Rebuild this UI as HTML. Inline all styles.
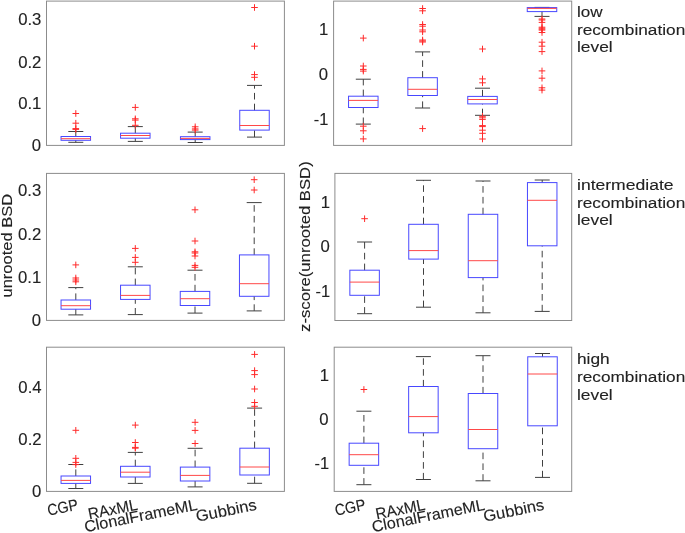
<!DOCTYPE html>
<html><head><meta charset="utf-8"><style>
html,body{margin:0;padding:0;background:#fff;width:685px;height:533px;overflow:hidden}
svg{display:block}
text{font-family:"Liberation Sans",sans-serif}
</style></head><body>
<svg width="685" height="533" viewBox="0 0 685 533">
<rect width="685" height="533" fill="#fff"/>
<rect x="46.5" y="1.1" width="237.9" height="144.3" fill="none" stroke="#8c8c8c" stroke-width="1"/>
<rect x="333.6" y="1.1" width="238.1" height="144.3" fill="none" stroke="#8c8c8c" stroke-width="1"/>
<rect x="46.5" y="173.4" width="237.9" height="147" fill="none" stroke="#8c8c8c" stroke-width="1"/>
<rect x="334.9" y="173.4" width="236.8" height="147.1" fill="none" stroke="#8c8c8c" stroke-width="1"/>
<rect x="46.5" y="347.2" width="237.9" height="144.2" fill="none" stroke="#8c8c8c" stroke-width="1"/>
<rect x="334.2" y="347.2" width="237.5" height="144.2" fill="none" stroke="#8c8c8c" stroke-width="1"/>
<path d="M75.8 136.5V131.5M75.8 142.3V140.3" stroke="#404040" stroke-width="1" stroke-dasharray="6.6 4.2" fill="none"/>
<path d="M68.3 131.5H83.3M68.3 142.3H83.3" stroke="#404040" stroke-width="1" fill="none"/>
<rect x="61.05" y="136.5" width="29.5" height="3.8" fill="none" stroke="#4848ff" stroke-width="1"/>
<path d="M61.05 138.7H90.55" stroke="#ff4848" stroke-width="1" fill="none"/>
<path d="M72.5 113.5H79.1M75.8 110.2V116.8M72.5 123.2H79.1M75.8 119.9V126.5M72.5 128.6H79.1M75.8 125.3V131.9M72.5 129.4H79.1M75.8 126.1V132.7" stroke="#ff2a2a" stroke-width="1" fill="none"/>
<path d="M135.3 133.2V126.6M135.3 141.4V138.2" stroke="#404040" stroke-width="1" stroke-dasharray="6.6 4.2" fill="none"/>
<path d="M127.8 126.6H142.8M127.8 141.4H142.8" stroke="#404040" stroke-width="1" fill="none"/>
<rect x="120.55" y="133.2" width="29.5" height="5" fill="none" stroke="#4848ff" stroke-width="1"/>
<path d="M120.55 135.5H150.05" stroke="#ff4848" stroke-width="1" fill="none"/>
<path d="M132 107.4H138.6M135.3 104.1V110.7M132 118.8H138.6M135.3 115.5V122.1M132 120.1H138.6M135.3 116.8V123.4M132 125.3H138.6M135.3 122V128.6" stroke="#ff2a2a" stroke-width="1" fill="none"/>
<path d="M195.2 136.7V132.1M195.2 142.5V139.6" stroke="#404040" stroke-width="1" stroke-dasharray="6.6 4.2" fill="none"/>
<path d="M187.7 132.1H202.7M187.7 142.5H202.7" stroke="#404040" stroke-width="1" fill="none"/>
<rect x="180.45" y="136.7" width="29.5" height="2.9" fill="none" stroke="#4848ff" stroke-width="1"/>
<path d="M180.45 138.4H209.95" stroke="#ff4848" stroke-width="1" fill="none"/>
<path d="M191.9 126.8H198.5M195.2 123.5V130.1M191.9 128.9H198.5M195.2 125.6V132.2M191.9 130.1H198.5M195.2 126.8V133.4" stroke="#ff2a2a" stroke-width="1" fill="none"/>
<path d="M254.5 110.3V85.4M254.5 137.1V130.1" stroke="#404040" stroke-width="1" stroke-dasharray="6.6 4.2" fill="none"/>
<path d="M247 85.4H262M247 137.1H262" stroke="#404040" stroke-width="1" fill="none"/>
<rect x="239.75" y="110.3" width="29.5" height="19.8" fill="none" stroke="#4848ff" stroke-width="1"/>
<path d="M239.75 125.5H269.25" stroke="#ff4848" stroke-width="1" fill="none"/>
<path d="M251.2 7.5H257.8M254.5 4.2V10.8M251.2 46.2H257.8M254.5 42.9V49.5M251.2 74.6H257.8M254.5 71.3V77.9M251.2 77.3H257.8M254.5 74V80.6" stroke="#ff2a2a" stroke-width="1" fill="none"/>
<path d="M363.3 96.2V79.2M363.3 124.1V107.5" stroke="#404040" stroke-width="1" stroke-dasharray="6.6 4.2" fill="none"/>
<path d="M355.8 79.2H370.8M355.8 124.1H370.8" stroke="#404040" stroke-width="1" fill="none"/>
<rect x="348.55" y="96.2" width="29.5" height="11.3" fill="none" stroke="#4848ff" stroke-width="1"/>
<path d="M348.55 100.4H378.05" stroke="#ff4848" stroke-width="1" fill="none"/>
<path d="M360 38.1H366.6M363.3 34.8V41.4M360 66H366.6M363.3 62.7V69.3M360 69.4H366.6M363.3 66.1V72.7M360 71.1H366.6M363.3 67.8V74.4M360 126.2H366.6M363.3 122.9V129.5M360 130.8H366.6M363.3 127.5V134.1M360 138.9H366.6M363.3 135.6V142.2" stroke="#ff2a2a" stroke-width="1" fill="none"/>
<path d="M422.6 77.7V51.9M422.6 108V95.5" stroke="#404040" stroke-width="1" stroke-dasharray="6.6 4.2" fill="none"/>
<path d="M415.1 51.9H430.1M415.1 108H430.1" stroke="#404040" stroke-width="1" fill="none"/>
<rect x="407.85" y="77.7" width="29.5" height="17.8" fill="none" stroke="#4848ff" stroke-width="1"/>
<path d="M407.85 89.3H437.35" stroke="#ff4848" stroke-width="1" fill="none"/>
<path d="M419.3 8.5H425.9M422.6 5.2V11.8M419.3 10.8H425.9M422.6 7.5V14.1M419.3 24.5H425.9M422.6 21.2V27.8M419.3 26.2H425.9M422.6 22.9V29.5M419.3 30H425.9M422.6 26.7V33.3M419.3 31.8H425.9M422.6 28.5V35.1M419.3 40H425.9M422.6 36.7V43.3M419.3 41H425.9M422.6 37.7V44.3M419.3 42H425.9M422.6 38.7V45.3M419.3 128.6H425.9M422.6 125.3V131.9" stroke="#ff2a2a" stroke-width="1" fill="none"/>
<path d="M482.5 96.4V88.2M482.5 115.3V103.9" stroke="#404040" stroke-width="1" stroke-dasharray="6.6 4.2" fill="none"/>
<path d="M475 88.2H490M475 115.3H490" stroke="#404040" stroke-width="1" fill="none"/>
<rect x="467.75" y="96.4" width="29.5" height="7.5" fill="none" stroke="#4848ff" stroke-width="1"/>
<path d="M467.75 99.5H497.25" stroke="#ff4848" stroke-width="1" fill="none"/>
<path d="M479.2 49H485.8M482.5 45.7V52.3M479.2 78.9H485.8M482.5 75.6V82.2M479.2 82.8H485.8M482.5 79.5V86.1M479.2 116.3H485.8M482.5 113V119.6M479.2 117.8H485.8M482.5 114.5V121.1M479.2 119.4H485.8M482.5 116.1V122.7M479.2 125.6H485.8M482.5 122.3V128.9M479.2 126.6H485.8M482.5 123.3V129.9M479.2 130.2H485.8M482.5 126.9V133.5M479.2 133.3H485.8M482.5 130V136.6M479.2 139H485.8M482.5 135.7V142.3" stroke="#ff2a2a" stroke-width="1" fill="none"/>
<path d="M542 7.6V7.4M542 16.4V11.6" stroke="#404040" stroke-width="1" stroke-dasharray="6.6 4.2" fill="none"/>
<path d="M534.5 7.4H549.5M534.5 16.4H549.5" stroke="#404040" stroke-width="1" fill="none"/>
<rect x="527.25" y="7.6" width="29.5" height="4" fill="none" stroke="#4848ff" stroke-width="1"/>
<path d="M527.25 8.4H556.75" stroke="#ff4848" stroke-width="1" fill="none"/>
<path d="M538.7 19H545.3M542 15.7V22.3M538.7 20H545.3M542 16.7V23.3M538.7 22.4H545.3M542 19.1V25.7M538.7 27.2H545.3M542 23.9V30.5M538.7 28.2H545.3M542 24.9V31.5M538.7 29.2H545.3M542 25.9V32.5M538.7 30.1H545.3M542 26.8V33.4M538.7 32.5H545.3M542 29.2V35.8M538.7 42.2H545.3M542 38.9V45.5M538.7 46.2H545.3M542 42.9V49.5M538.7 51.6H545.3M542 48.3V54.9M538.7 70.9H545.3M542 67.6V74.2M538.7 78.2H545.3M542 74.9V81.5M538.7 87.8H545.3M542 84.5V91.1M538.7 90.1H545.3M542 86.8V93.4" stroke="#ff2a2a" stroke-width="1" fill="none"/>
<path d="M75.8 300V287.6M75.8 314.9V309.2" stroke="#404040" stroke-width="1" stroke-dasharray="6.6 4.2" fill="none"/>
<path d="M68.3 287.6H83.3M68.3 314.9H83.3" stroke="#404040" stroke-width="1" fill="none"/>
<rect x="61.05" y="300" width="29.5" height="9.2" fill="none" stroke="#4848ff" stroke-width="1"/>
<path d="M61.05 305.7H90.55" stroke="#ff4848" stroke-width="1" fill="none"/>
<path d="M72.5 264.9H79.1M75.8 261.6V268.2M72.5 278H79.1M75.8 274.7V281.3M72.5 280H79.1M75.8 276.7V283.3M72.5 281.8H79.1M75.8 278.5V285.1" stroke="#ff2a2a" stroke-width="1" fill="none"/>
<path d="M135.3 285.2V266.8M135.3 314.6V299.4" stroke="#404040" stroke-width="1" stroke-dasharray="6.6 4.2" fill="none"/>
<path d="M127.8 266.8H142.8M127.8 314.6H142.8" stroke="#404040" stroke-width="1" fill="none"/>
<rect x="120.55" y="285.2" width="29.5" height="14.2" fill="none" stroke="#4848ff" stroke-width="1"/>
<path d="M120.55 295.4H150.05" stroke="#ff4848" stroke-width="1" fill="none"/>
<path d="M132 248.4H138.6M135.3 245.1V251.7M132 257.4H138.6M135.3 254.1V260.7M132 262.3H138.6M135.3 259V265.6" stroke="#ff2a2a" stroke-width="1" fill="none"/>
<path d="M195 291.4V270.2M195 313.1V305.5" stroke="#404040" stroke-width="1" stroke-dasharray="6.6 4.2" fill="none"/>
<path d="M187.5 270.2H202.5M187.5 313.1H202.5" stroke="#404040" stroke-width="1" fill="none"/>
<rect x="180.25" y="291.4" width="29.5" height="14.1" fill="none" stroke="#4848ff" stroke-width="1"/>
<path d="M180.25 298.7H209.75" stroke="#ff4848" stroke-width="1" fill="none"/>
<path d="M191.7 209.8H198.3M195 206.5V213.1M191.7 241H198.3M195 237.7V244.3M191.7 251.8H198.3M195 248.5V255.1M191.7 253H198.3M195 249.7V256.3M191.7 256H198.3M195 252.7V259.3M191.7 265.4H198.3M195 262.1V268.7M191.7 267.3H198.3M195 264V270.6" stroke="#ff2a2a" stroke-width="1" fill="none"/>
<path d="M254.2 254.9V202.6M254.2 310.9V296.3" stroke="#404040" stroke-width="1" stroke-dasharray="6.6 4.2" fill="none"/>
<path d="M246.7 202.6H261.7M246.7 310.9H261.7" stroke="#404040" stroke-width="1" fill="none"/>
<rect x="239.45" y="254.9" width="29.5" height="41.4" fill="none" stroke="#4848ff" stroke-width="1"/>
<path d="M239.45 283.7H268.95" stroke="#ff4848" stroke-width="1" fill="none"/>
<path d="M250.9 179.7H257.5M254.2 176.4V183M250.9 190H257.5M254.2 186.7V193.3" stroke="#ff2a2a" stroke-width="1" fill="none"/>
<path d="M364.6 270.2V242M364.6 313.7V295.3" stroke="#404040" stroke-width="1" stroke-dasharray="6.6 4.2" fill="none"/>
<path d="M357.1 242H372.1M357.1 313.7H372.1" stroke="#404040" stroke-width="1" fill="none"/>
<rect x="349.85" y="270.2" width="29.5" height="25.1" fill="none" stroke="#4848ff" stroke-width="1"/>
<path d="M349.85 282.1H379.35" stroke="#ff4848" stroke-width="1" fill="none"/>
<path d="M361.3 218.7H367.9M364.6 215.4V222" stroke="#ff2a2a" stroke-width="1" fill="none"/>
<path d="M423.5 224.3V180.3M423.5 307.2V259.1" stroke="#404040" stroke-width="1" stroke-dasharray="6.6 4.2" fill="none"/>
<path d="M416 180.3H431M416 307.2H431" stroke="#404040" stroke-width="1" fill="none"/>
<rect x="408.75" y="224.3" width="29.5" height="34.8" fill="none" stroke="#4848ff" stroke-width="1"/>
<path d="M408.75 250.6H438.25" stroke="#ff4848" stroke-width="1" fill="none"/>
<path d="M483 214.3V181M483 312.8V277.6" stroke="#404040" stroke-width="1" stroke-dasharray="6.6 4.2" fill="none"/>
<path d="M475.5 181H490.5M475.5 312.8H490.5" stroke="#404040" stroke-width="1" fill="none"/>
<rect x="468.25" y="214.3" width="29.5" height="63.3" fill="none" stroke="#4848ff" stroke-width="1"/>
<path d="M468.25 260.7H497.75" stroke="#ff4848" stroke-width="1" fill="none"/>
<path d="M542.2 182.6V180M542.2 311.4V245.8" stroke="#404040" stroke-width="1" stroke-dasharray="6.6 4.2" fill="none"/>
<path d="M534.7 180H549.7M534.7 311.4H549.7" stroke="#404040" stroke-width="1" fill="none"/>
<rect x="527.45" y="182.6" width="29.5" height="63.2" fill="none" stroke="#4848ff" stroke-width="1"/>
<path d="M527.45 200.3H556.95" stroke="#ff4848" stroke-width="1" fill="none"/>
<path d="M75.8 476V464.5M75.8 488.5V483.4" stroke="#404040" stroke-width="1" stroke-dasharray="6.6 4.2" fill="none"/>
<path d="M68.3 464.5H83.3M68.3 488.5H83.3" stroke="#404040" stroke-width="1" fill="none"/>
<rect x="61.05" y="476" width="29.5" height="7.4" fill="none" stroke="#4848ff" stroke-width="1"/>
<path d="M61.05 480.4H90.55" stroke="#ff4848" stroke-width="1" fill="none"/>
<path d="M72.5 430.3H79.1M75.8 427V433.6M72.5 458.3H79.1M75.8 455V461.6M72.5 462.4H79.1M75.8 459.1V465.7M72.5 464.6H79.1M75.8 461.3V467.9" stroke="#ff2a2a" stroke-width="1" fill="none"/>
<path d="M135.3 466.3V452.4M135.3 483.4V477" stroke="#404040" stroke-width="1" stroke-dasharray="6.6 4.2" fill="none"/>
<path d="M127.8 452.4H142.8M127.8 483.4H142.8" stroke="#404040" stroke-width="1" fill="none"/>
<rect x="120.55" y="466.3" width="29.5" height="10.7" fill="none" stroke="#4848ff" stroke-width="1"/>
<path d="M120.55 472.2H150.05" stroke="#ff4848" stroke-width="1" fill="none"/>
<path d="M132 425.1H138.6M135.3 421.8V428.4M132 442.5H138.6M135.3 439.2V445.8M132 447.4H138.6M135.3 444.1V450.7M132 448.2H138.6M135.3 444.9V451.5" stroke="#ff2a2a" stroke-width="1" fill="none"/>
<path d="M195.1 467.1V448.3M195.1 486.9V481" stroke="#404040" stroke-width="1" stroke-dasharray="6.6 4.2" fill="none"/>
<path d="M187.6 448.3H202.6M187.6 486.9H202.6" stroke="#404040" stroke-width="1" fill="none"/>
<rect x="180.35" y="467.1" width="29.5" height="13.9" fill="none" stroke="#4848ff" stroke-width="1"/>
<path d="M180.35 475.4H209.85" stroke="#ff4848" stroke-width="1" fill="none"/>
<path d="M191.8 422.3H198.4M195.1 419V425.6M191.8 430.4H198.4M195.1 427.1V433.7M191.8 443.5H198.4M195.1 440.2V446.8" stroke="#ff2a2a" stroke-width="1" fill="none"/>
<path d="M254.6 448.2V408.1M254.6 483.3V475" stroke="#404040" stroke-width="1" stroke-dasharray="6.6 4.2" fill="none"/>
<path d="M247.1 408.1H262.1M247.1 483.3H262.1" stroke="#404040" stroke-width="1" fill="none"/>
<rect x="239.85" y="448.2" width="29.5" height="26.8" fill="none" stroke="#4848ff" stroke-width="1"/>
<path d="M239.85 467H269.35" stroke="#ff4848" stroke-width="1" fill="none"/>
<path d="M251.3 354.4H257.9M254.6 351.1V357.7M251.3 370.6H257.9M254.6 367.3V373.9M251.3 374.6H257.9M254.6 371.3V377.9M251.3 389H257.9M254.6 385.7V392.3M251.3 402.5H257.9M254.6 399.2V405.8M251.3 406.3H257.9M254.6 403V409.6" stroke="#ff2a2a" stroke-width="1" fill="none"/>
<path d="M363.9 443.2V411.2M363.9 484.7V465.3" stroke="#404040" stroke-width="1" stroke-dasharray="6.6 4.2" fill="none"/>
<path d="M356.4 411.2H371.4M356.4 484.7H371.4" stroke="#404040" stroke-width="1" fill="none"/>
<rect x="349.15" y="443.2" width="29.5" height="22.1" fill="none" stroke="#4848ff" stroke-width="1"/>
<path d="M349.15 454.7H378.65" stroke="#ff4848" stroke-width="1" fill="none"/>
<path d="M360.6 389.5H367.2M363.9 386.2V392.8" stroke="#ff2a2a" stroke-width="1" fill="none"/>
<path d="M423.4 386.5V356.6M423.4 479.5V432.8" stroke="#404040" stroke-width="1" stroke-dasharray="6.6 4.2" fill="none"/>
<path d="M415.9 356.6H430.9M415.9 479.5H430.9" stroke="#404040" stroke-width="1" fill="none"/>
<rect x="408.65" y="386.5" width="29.5" height="46.3" fill="none" stroke="#4848ff" stroke-width="1"/>
<path d="M408.65 416.6H438.15" stroke="#ff4848" stroke-width="1" fill="none"/>
<path d="M483 393.5V355.7M483 480.8V448.7" stroke="#404040" stroke-width="1" stroke-dasharray="6.6 4.2" fill="none"/>
<path d="M475.5 355.7H490.5M475.5 480.8H490.5" stroke="#404040" stroke-width="1" fill="none"/>
<rect x="468.25" y="393.5" width="29.5" height="55.2" fill="none" stroke="#4848ff" stroke-width="1"/>
<path d="M468.25 429.5H497.75" stroke="#ff4848" stroke-width="1" fill="none"/>
<path d="M542.5 356.8V353.5M542.5 477.4V425.8" stroke="#404040" stroke-width="1" stroke-dasharray="6.6 4.2" fill="none"/>
<path d="M535 353.5H550M535 477.4H550" stroke="#404040" stroke-width="1" fill="none"/>
<rect x="527.75" y="356.8" width="29.5" height="69" fill="none" stroke="#4848ff" stroke-width="1"/>
<path d="M527.75 374H557.25" stroke="#ff4848" stroke-width="1" fill="none"/>
<g font-family="Liberation Sans, sans-serif" font-size="15.8" fill="#222222" stroke="#222222" stroke-width="0.12" style="filter:grayscale(1)">
<text x="41.41" y="25.15" text-anchor="end" textLength="23.26" lengthAdjust="spacingAndGlyphs">0.3</text>
<text x="41.41" y="67.75" text-anchor="end" textLength="23.26" lengthAdjust="spacingAndGlyphs">0.2</text>
<text x="41.41" y="109.25" text-anchor="end" textLength="23.26" lengthAdjust="spacingAndGlyphs">0.1</text>
<text x="41.19" y="150.75" text-anchor="end" textLength="9.3" lengthAdjust="spacingAndGlyphs">0</text>
<text x="328.37" y="35.45" text-anchor="end" textLength="9.3" lengthAdjust="spacingAndGlyphs">1</text>
<text x="327.99" y="80.05" text-anchor="end" textLength="9.3" lengthAdjust="spacingAndGlyphs">0</text>
<text x="328.38" y="125.25" text-anchor="end" textLength="14.58" lengthAdjust="spacingAndGlyphs">-1</text>
<text x="41.21" y="196.25" text-anchor="end" textLength="23.26" lengthAdjust="spacingAndGlyphs">0.3</text>
<text x="41.21" y="240" text-anchor="end" textLength="23.26" lengthAdjust="spacingAndGlyphs">0.2</text>
<text x="41.21" y="283.25" text-anchor="end" textLength="23.26" lengthAdjust="spacingAndGlyphs">0.1</text>
<text x="40.99" y="326.25" text-anchor="end" textLength="9.3" lengthAdjust="spacingAndGlyphs">0</text>
<text x="330.17" y="207.9" text-anchor="end" textLength="9.3" lengthAdjust="spacingAndGlyphs">1</text>
<text x="329.79" y="252.15" text-anchor="end" textLength="9.3" lengthAdjust="spacingAndGlyphs">0</text>
<text x="330.18" y="297.25" text-anchor="end" textLength="14.58" lengthAdjust="spacingAndGlyphs">-1</text>
<text x="41.61" y="393.15" text-anchor="end" textLength="23.26" lengthAdjust="spacingAndGlyphs">0.4</text>
<text x="41.61" y="444.75" text-anchor="end" textLength="23.26" lengthAdjust="spacingAndGlyphs">0.2</text>
<text x="41.39" y="496.55" text-anchor="end" textLength="9.3" lengthAdjust="spacingAndGlyphs">0</text>
<text x="329.07" y="380.95" text-anchor="end" textLength="9.3" lengthAdjust="spacingAndGlyphs">1</text>
<text x="328.69" y="425.2" text-anchor="end" textLength="9.3" lengthAdjust="spacingAndGlyphs">0</text>
<text x="329.08" y="469.15" text-anchor="end" textLength="14.58" lengthAdjust="spacingAndGlyphs">-1</text>
<text x="577" y="17.1" text-anchor="start" textLength="25.61" lengthAdjust="spacingAndGlyphs" font-size="15.3">low</text>
<text x="577" y="34.6" text-anchor="start" textLength="108.22" lengthAdjust="spacingAndGlyphs" font-size="15.3">recombination</text>
<text x="577" y="52.2" text-anchor="start" textLength="35.67" lengthAdjust="spacingAndGlyphs" font-size="15.3">level</text>
<text x="577" y="190.3" text-anchor="start" textLength="96.52" lengthAdjust="spacingAndGlyphs" font-size="15.3">intermediate</text>
<text x="577" y="207.8" text-anchor="start" textLength="108.22" lengthAdjust="spacingAndGlyphs" font-size="15.3">recombination</text>
<text x="577" y="225.4" text-anchor="start" textLength="35.67" lengthAdjust="spacingAndGlyphs" font-size="15.3">level</text>
<text x="577" y="364" text-anchor="start" textLength="32.7" lengthAdjust="spacingAndGlyphs" font-size="15.3">high</text>
<text x="577" y="381.9" text-anchor="start" textLength="108.22" lengthAdjust="spacingAndGlyphs" font-size="15.3">recombination</text>
<text x="577" y="399.8" text-anchor="start" textLength="35.67" lengthAdjust="spacingAndGlyphs" font-size="15.3">level</text>
<text x="12" y="245.7" text-anchor="middle" textLength="103.7" lengthAdjust="spacingAndGlyphs" transform="rotate(-90 12 245.7)" font-size="15.3">unrooted BSD</text>
<text x="309.6" y="246.6" text-anchor="middle" textLength="170.69" lengthAdjust="spacingAndGlyphs" transform="rotate(-90 309.6 246.6)" font-size="15.3">z-score(unrooted BSD)</text>
<text x="78.95" y="509.7" text-anchor="end" textLength="31.14" lengthAdjust="spacingAndGlyphs" transform="rotate(-11.3 78.95 509.7)">CGP</text>
<text x="138.45" y="509.7" text-anchor="end" textLength="50.25" lengthAdjust="spacingAndGlyphs" transform="rotate(-11.3 138.45 509.7)">RAxML</text>
<text x="197.95" y="509.7" text-anchor="end" textLength="114.72" lengthAdjust="spacingAndGlyphs" transform="rotate(-11.3 197.95 509.7)">ClonalFrameML</text>
<text x="257.45" y="509.7" text-anchor="end" textLength="61.66" lengthAdjust="spacingAndGlyphs" transform="rotate(-11.3 257.45 509.7)">Gubbins</text>
<text x="366.45" y="509.7" text-anchor="end" textLength="31.14" lengthAdjust="spacingAndGlyphs" transform="rotate(-11.3 366.45 509.7)">CGP</text>
<text x="425.95" y="509.7" text-anchor="end" textLength="50.25" lengthAdjust="spacingAndGlyphs" transform="rotate(-11.3 425.95 509.7)">RAxML</text>
<text x="485.45" y="509.7" text-anchor="end" textLength="114.72" lengthAdjust="spacingAndGlyphs" transform="rotate(-11.3 485.45 509.7)">ClonalFrameML</text>
<text x="544.95" y="509.7" text-anchor="end" textLength="61.66" lengthAdjust="spacingAndGlyphs" transform="rotate(-11.3 544.95 509.7)">Gubbins</text>
</g>
</svg>
</body></html>
